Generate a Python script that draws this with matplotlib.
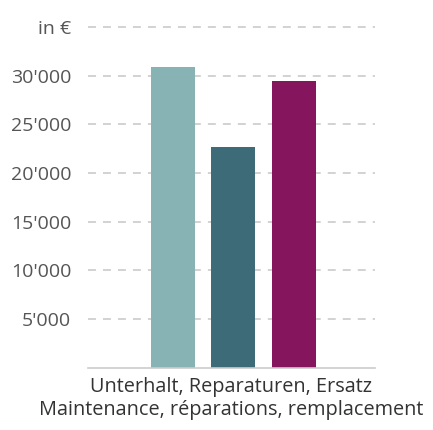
import matplotlib
matplotlib.use("Agg")
import matplotlib.pyplot as plt

categories = ["Unterhalt", "Reparaturen", "Ersatz"]
values = [30900, 22650, 29450]
colors = ["#88B3B5", "#3D6B78", "#85155C"]
yticks = [5000, 10000, 15000, 20000, 25000, 30000, 35000]
ytick_labels = ["5'000", "10'000", "15'000", "20'000", "25'000", "30'000", "in €"]
xlabel = "Unterhalt, Reparaturen, Ersatz\nMaintenance, réparations, remplacement"

plt.rcParams['font.family'] = ['Open Sans', 'DejaVu Sans']

fig = plt.figure(figsize=(4.33, 4.30), dpi=100)
ax = fig.add_axes([88/433, 62.3/430, 287/433, 345.7/430])

x = list(range(len(values)))
ax.bar(x, values, width=0.727, color=colors, zorder=2)

ax.set_xlim(-1.397, 3.347)
ax.set_ylim(0, 35500)
ax.set_yticks(yticks)
ax.set_yticklabels(ytick_labels, fontsize=14, color="#555555")
ax.tick_params(axis='y', length=0, pad=12)
ax.set_xticks([])
for s in ["top", "right", "left"]:
    ax.spines[s].set_visible(False)
ax.spines["bottom"].set_color("#cccccc")
ax.spines["bottom"].set_linewidth(1.2)

for t in yticks:
    ax.axhline(t, color="#cfcfcf", linewidth=1.3, linestyle=(0, (4.4, 3.9)), zorder=1)

ax.set_xlabel(xlabel, fontsize=14.3, color="#333333", labelpad=7, linespacing=1.2)

fig.savefig("out.png", dpi=100)
